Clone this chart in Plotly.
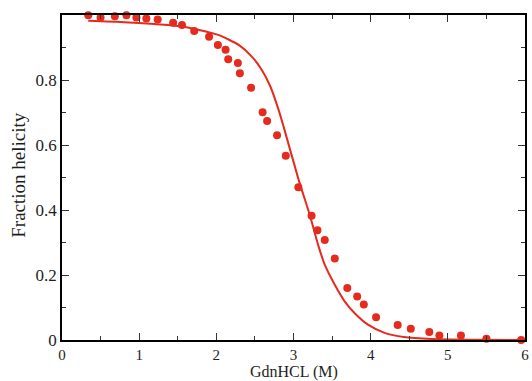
import plotly.graph_objects as go

# Experimental data (GdnHCl concentration, fraction helicity)
exp_x = [0.34, 0.50, 0.685, 0.835, 0.964, 1.093, 1.24, 1.44, 1.555, 1.713, 1.906,
         2.02, 2.12, 2.154, 2.279, 2.305, 2.45, 2.60, 2.658, 2.787, 2.90, 3.063,
         3.234, 3.31, 3.405, 3.535, 3.697, 3.825, 3.911, 4.07, 4.35, 4.52, 4.76,
         4.89, 5.17, 5.50, 5.95]
exp_y = [0.999, 0.992, 0.996, 0.999, 0.992, 0.989, 0.986, 0.976, 0.969, 0.951, 0.933,
         0.908, 0.893, 0.864, 0.852, 0.821, 0.776, 0.701, 0.674, 0.630, 0.567, 0.470,
         0.382, 0.338, 0.308, 0.251, 0.160, 0.134, 0.109, 0.070, 0.046, 0.035, 0.025,
         0.014, 0.014, 0.004, 0.0]

# Fitted curve
fit_x = [0.34, 0.8, 1.2, 1.5, 1.777, 2.034, 2.29, 2.46, 2.59, 2.70, 2.806, 2.87,
         3.064, 3.213, 3.32, 3.406, 3.535, 3.663, 3.79, 3.96, 4.18, 4.43, 4.8, 5.3, 6.0]
fit_y = [0.982, 0.978, 0.972, 0.966, 0.954, 0.938, 0.908, 0.872, 0.831, 0.780, 0.709,
         0.658, 0.495, 0.383, 0.292, 0.231, 0.170, 0.119, 0.083, 0.048, 0.022, 0.009,
         0.003, 0.001, 0.0]

y_ticks = [0, 0.2, 0.4, 0.6, 0.8]
y_tick_text = ["0", "0.2", "0.4", "0.6", "0.8"]

x_title = "GdnHCL (M)"
y_title = "Fraction helicity"

red = "#e52a1e"
font = "Liberation Serif"
txt = "#1e1e1e"

fig = go.Figure()
fig.add_trace(go.Scatter(x=fit_x, y=fit_y, mode="lines",
                         line=dict(color=red, width=2, shape="spline", smoothing=0.6),
                         cliponaxis=False, showlegend=False))
fig.add_trace(go.Scatter(x=exp_x, y=exp_y, mode="markers",
                         marker=dict(color=red, size=8),
                         cliponaxis=False, showlegend=False))

axis_common = dict(showline=True, linecolor="black", linewidth=1.5, mirror="allticks",
                   ticks="inside", ticklen=7, tickwidth=1.2, tickcolor="#333",
                   showgrid=False, zeroline=False,
                   tickfont=dict(family=font, size=17, color=txt))

fig.update_layout(
    width=532, height=381,
    margin=dict(l=62, r=3, t=15, b=41),
    paper_bgcolor="white", plot_bgcolor="white",
    xaxis=dict(range=[0, 6], dtick=1, tick0=0, ticklabelstandoff=0,
               minor=dict(dtick=0.5, ticks="inside", ticklen=4, tickcolor="#333"),
               **{**axis_common, "tickfont": dict(family=font, size=15, color=txt)}),
    yaxis=dict(range=[0, 1.0], tickvals=y_ticks, ticktext=y_tick_text,
               minor=dict(dtick=0.1, ticks="inside", ticklen=4, tickcolor="#333"),
               **axis_common),
    annotations=[
        dict(text=x_title, xref="paper", yref="paper", x=0.5, y=-0.098,
             xanchor="center", yanchor="middle", showarrow=False,
             font=dict(family=font, size=16, color=txt)),
        dict(text=y_title, xref="paper", yref="paper", x=-0.094, y=0.51,
             xanchor="center", yanchor="middle", showarrow=False, textangle=-90,
             font=dict(family=font, size=19, color=txt)),
    ],
)

fig.write_html("out.html")
